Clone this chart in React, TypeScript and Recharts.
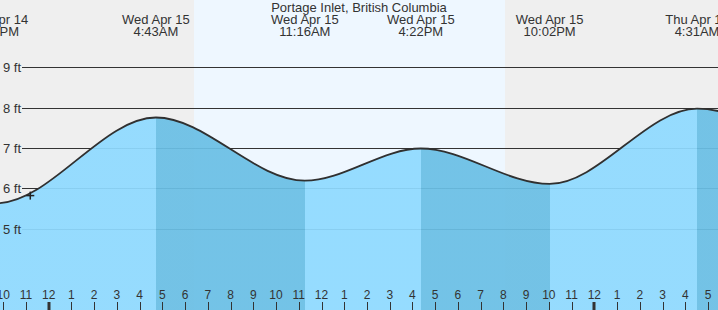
import React from 'react';
import { ComposedChart, Area, XAxis, YAxis, CartesianGrid, Scatter } from 'recharts';

// Tide extremes (hours from midnight Wed Apr 15)
const tideTimes = [-8.55, -2.29, 4.717, 11.267, 16.367, 22.033, 28.517, 34.9];
const tideHeights = [7.25, 5.64, 7.77, 6.2, 7.0, 6.12, 7.99, 6.05];

// Labelled tide events
const eventTimes = [-2.29, 4.717, 11.267, 16.367, 22.033, 28.517];
const eventDays = ['Tue Apr 14', 'Wed Apr 15', 'Wed Apr 15', 'Wed Apr 15', 'Wed Apr 15', 'Thu Apr 16'];
const eventClock = ['9:43PM', '4:43AM', '11:16AM', '4:22PM', '10:02PM', '4:31AM'];

// Axis ticks
const hourTicks = [-2, -1, 0, 1, 2, 3, 4, 5, 6, 7, 8, 9, 10, 11, 12, 13, 14, 15, 16, 17, 18, 19, 20, 21, 22, 23, 24, 25, 26, 27, 28, 29];
const heightTicks = [5, 6, 7, 8, 9];

// Daylight window and "now" marker
const sunrise = 6.4;
const sunset = 20.07;
const nowTimes = [-0.81];
const nowHeights = [5.83];

const xDomain: [number, number] = [-2.142, 29.439];
const yDomain: [number, number] = [2.988, 10.689];

const TITLE = 'Portage Inlet, British Columbia';
const FONT = '"Liberation Sans", Arial, sans-serif';
const TEXT = '#333';
const LIGHT = '#8fdaff';
const DARK = '#6abfe5';
const NIGHT = '#efefef';
const DAY = '#eef7ff';

const tideData = tideTimes.map((t, i) => ({ t, v: tideHeights[i] }));
const nowData = nowTimes.map((t, i) => ({ t, v: nowHeights[i] }));

const t0 = tideTimes[0];
const tN = tideTimes[tideTimes.length - 1];
const stops: { off: number; color: string }[] = [];
for (let i = 0; i < tideTimes.length - 1; i++) {
  const color = tideHeights[i + 1] < tideHeights[i] ? DARK : LIGHT;
  stops.push({ off: (tideTimes[i] - t0) / (tN - t0), color });
  stops.push({ off: (tideTimes[i + 1] - t0) / (tN - t0), color });
}

const hourLabel = (h: number) => {
  const m = ((h % 12) + 12) % 12;
  return String(m === 0 ? 12 : m);
};

const HourTick = (props: any) => {
  const { x, payload } = props;
  const h = payload.value as number;
  const midnight = ((h % 24) + 24) % 24 === 0;
  const lx = Math.round(x) + (midnight ? 0 : 0.5);
  return (
    <g>
      <line x1={lx} x2={lx} y1={302} y2={310} stroke={TEXT} strokeWidth={midnight ? 3 : 1} />
      <text x={x} y={299} textAnchor="middle" fontSize={12} fontFamily={FONT} fill={TEXT}>
        {hourLabel(h)}
      </text>
    </g>
  );
};

const EventTick = (props: any) => {
  const { x, payload, index } = props;
  const i = typeof index === 'number' ? index : eventTimes.indexOf(payload.value);
  return (
    <g>
      <text x={x} y={24} textAnchor="middle" fontSize={13} fontFamily={FONT} fill={TEXT}>
        {eventDays[i]}
      </text>
      <text x={x} y={36} textAnchor="middle" fontSize={13} fontFamily={FONT} fill={TEXT}>
        {eventClock[i]}
      </text>
    </g>
  );
};

const HeightTick = (props: any) => {
  const { y, payload } = props;
  return (
    <text x={3} y={y} dy={4.5} textAnchor="start" fontSize={13} fontFamily={FONT} fill={TEXT}>
      {`${payload.value} ft`}
    </text>
  );
};

const GridLine = (p: any) => {
  const y = Math.floor(p.y1) + 0.5;
  return <line key={p.key ?? `h-${p.index}`} x1={p.x1 + 22} y1={y} x2={p.x2} y2={y} stroke="#333" strokeWidth={1} />;
};

const NoLine = (p: any) => <g key={p.key ?? `v-${p.index}`} />;

const linear = (v: number, d: [number, number], r0: number, r1: number) => r0 + ((v - d[0]) / (d[1] - d[0])) * (r1 - r0);

const dayCoords = (arg: any) => {
  const xAxis = arg?.xAxis;
  if (xAxis && typeof xAxis.scale === 'function') {
    return [xAxis.scale(sunrise), xAxis.scale(sunset)];
  }
  const w = arg?.width ?? 718;
  return [linear(sunrise, xDomain, 0, w), linear(sunset, xDomain, 0, w)];
};

const gridRows = (arg: any) => {
  const yAxis = arg?.yAxis;
  if (yAxis && typeof yAxis.scale === 'function') {
    return heightTicks.map((v) => yAxis.scale(v));
  }
  const h = arg?.height ?? 310;
  return heightTicks.map((v) => linear(v, yDomain, h, 0));
};

const NowMarker = (props: any) => {
  const { cx, cy } = props;
  return (
    <g>
      <line x1={cx - 4} x2={cx + 4} y1={cy} y2={cy} stroke="#222" strokeWidth={1.5} />
      <line x1={cx} x2={cx} y1={cy - 4} y2={cy + 4} stroke="#222" strokeWidth={1.5} />
    </g>
  );
};

export default function App() {
  return (
    <div style={{ position: 'fixed', left: 0, top: 0, width: 718, height: 310, background: NIGHT, overflow: 'hidden' }}>
      <ComposedChart width={718} height={310} data={tideData} margin={{ top: 0, right: 0, bottom: 0, left: 0 }}>
        <defs>
          <linearGradient id="tideFill" x1="0" y1="0" x2="1" y2="0">
            {stops.map((s, i) => (
              <stop key={i} offset={s.off} stopColor={s.color} />
            ))}
          </linearGradient>
        </defs>
        <CartesianGrid
          horizontal={GridLine}
          vertical={NoLine}
          horizontalCoordinatesGenerator={gridRows}
          verticalCoordinatesGenerator={dayCoords}
          verticalFill={[NIGHT, DAY, NIGHT]}
          fill="none"
          stroke="#333"
        />
        <XAxis
          xAxisId="bottom"
          dataKey="t"
          type="number"
          domain={xDomain}
          allowDataOverflow
          ticks={hourTicks}
          interval={0}
          mirror
          axisLine={false}
          tickLine={false}
          tick={HourTick}
        />
        <XAxis
          xAxisId="top"
          orientation="top"
          dataKey="t"
          type="number"
          domain={xDomain}
          allowDataOverflow
          ticks={eventTimes}
          interval={0}
          mirror
          axisLine={false}
          tickLine={false}
          tick={EventTick}
        />
        <YAxis
          type="number"
          domain={yDomain}
          allowDataOverflow
          ticks={heightTicks}
          interval={0}
          mirror
          axisLine={false}
          tickLine={false}
          tick={HeightTick}
        />
        <Area
          xAxisId="bottom"
          type="monotone"
          dataKey="v"
          stroke="#303030"
          strokeWidth={1.8}
          fill="url(#tideFill)"
          fillOpacity={0.93}
          isAnimationActive={false}
          dot={false}
          activeDot={false}
        />
        <Scatter
          xAxisId="bottom"
          data={nowData}
          dataKey="v"
          shape={NowMarker}
          isAnimationActive={false}
        />
      </ComposedChart>
      <div
        style={{
          position: 'absolute',
          top: 0,
          left: 0,
          width: 718,
          textAlign: 'center',
          fontFamily: FONT,
          fontSize: 13,
          lineHeight: '15px',
          color: TEXT,
          pointerEvents: 'none',
        }}
      >
        {TITLE}
      </div>
    </div>
  );
}
